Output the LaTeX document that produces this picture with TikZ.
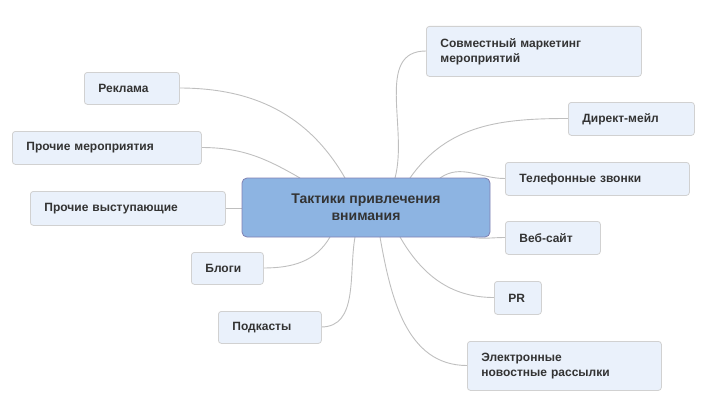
\documentclass[tikz,border=0pt]{standalone}
\usepackage{fontspec}
\setmainfont{Liberation Sans}
\begin{document}
\begin{tikzpicture}[x=1pt,y=-1pt,
  leaf/.style={draw=black!18, fill={rgb,255:red,234;green,241;blue,251}, rounded corners=3pt, line width=0.8pt, font=\bfseries\fontsize{12}{15}\selectfont, text=black!80, align=left, anchor=north west, inner sep=0pt},
  link/.style={draw=black!25, line width=0.9pt}]
\useasboundingbox (0,0) rectangle (706,404);
\def\lf(#1)#2#3#4#5#6{\node[leaf, minimum width=#4-#2, minimum height=#5-#3, text width=#4-#2-28pt] (#1) at (#2,#3) {#6};}
\draw[link] (345,178) to[out=120,in=0] (84+95,88);
\draw[link] (300,178) to[out=150,in=0] (201,147.5);
\draw[link] (263,268) to[out=0,in=240] (330,237);
\draw[link] (321,327) to[out=0,in=260] (355,237);
\draw[link] (395,178) to[out=75,in=180] (426,51);
\draw[link] (410,178) to[out=55,in=180] (568,118.5);
\draw[link] (440,178) to[out=35,in=180] (505,178.5);
\draw[link] (470,237) to[out=-10,in=180] (505,237.5);
\draw[link] (400,237) to[out=-60,in=180] (494,297.5);
\draw[link] (380,237) to[out=-80,in=180] (467,365.5);
\draw[link] (225,208) -- (242,208);
\node[draw=blue!40!black!50, fill={rgb,255:red,141;green,180;blue,226}, rounded corners=5pt, line width=0.8pt, minimum width=248pt, minimum height=59pt, align=center, font=\bfseries\fontsize{14}{17}\selectfont, text=black!80] (c) at (366,207.5) {Тактики привлечения\\внимания};
\lf(a){84}{72}{179}{104}{Реклама}
\lf(b){12}{131}{201}{164}{Прочие мероприятия}
\lf(d){30}{191}{225}{225}{Прочие выступающие}
\lf(e){191}{252}{263}{284}{Блоги}
\lf(f){218}{311}{321}{343}{Подкасты}
\lf(g){426}{26}{641}{76}{Совместный маркетинг\\мероприятий}
\lf(h){568}{102}{694}{135}{Директ-мейл}
\lf(i){505}{162}{689}{195}{Телефонные звонки}
\lf(j){505}{221}{600}{254}{Веб-сайт}
\lf(k){494}{281}{541}{314}{PR}
\lf(l){467}{341}{661}{390}{Электронные\\новостные рассылки}
\end{tikzpicture}
\end{document}
